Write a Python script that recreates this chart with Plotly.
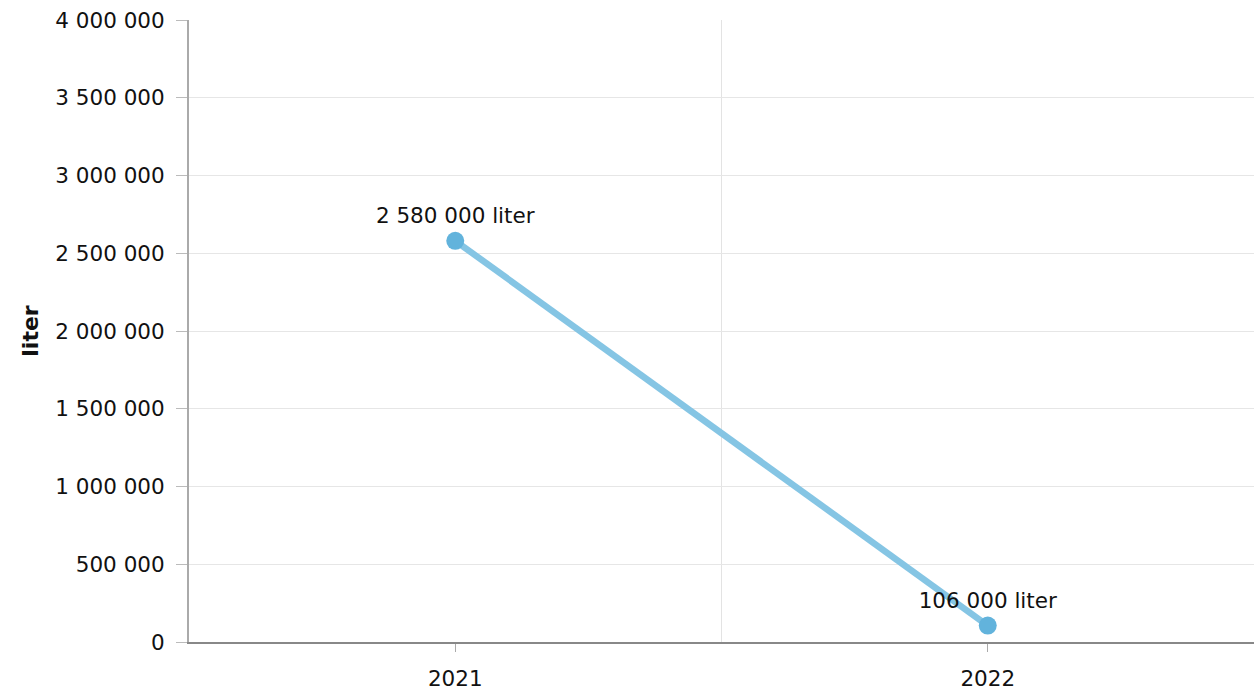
import plotly.graph_objects as go

years = ["2021", "2022"]
values = [2580000, 106000]
unit = "liter"
y_ticks = [0, 500000, 1000000, 1500000, 2000000, 2500000, 3000000, 3500000, 4000000]

def fmt(v):
    return f"{v:,}".replace(",", " ")

x_pos = list(range(len(years)))
labels = [f"{fmt(v)} {unit}" for v in values]

FONT = "Verdana, DejaVu Sans, sans-serif"
FS = 21.5

fig = go.Figure()
fig.add_trace(go.Scatter(
    x=x_pos, y=values,
    mode="lines+markers+text",
    line=dict(color="#85c5e4", width=6.5),
    marker=dict(color="#62b3dc", size=18),
    text=labels,
    textposition="top center",
    textfont=dict(family=FONT, size=FS, color="#111111"),
    cliponaxis=False,
    hoverinfo="skip",
))

fig.update_layout(
    width=1256, height=691,
    margin=dict(l=189, r=2, t=20, b=49, autoexpand=False),
    paper_bgcolor="white", plot_bgcolor="white",
    showlegend=False,
    font=dict(family=FONT, size=FS, color="#111111"),
    separators=". ",
)
fig.update_xaxes(
    automargin=False,
    range=[-0.5, 1.5],
    tickmode="array", tickvals=x_pos, ticktext=years,
    showgrid=False,
    ticks="outside", ticklen=8, tickcolor="#aaaaaa",
    ticklabelstandoff=8,
    showline=True, linecolor="#888888", linewidth=2,
    minor=dict(tickmode="array", tickvals=[0.5, 1.5], showgrid=True,
               gridcolor="#e3e3e3", gridwidth=1, ticks=""),
    zeroline=False,
    tickfont=dict(family=FONT, size=FS),
)
fig.update_yaxes(
    automargin=False,
    range=[0, 4000000],
    tickmode="array", tickvals=y_ticks,
    ticktext=[fmt(v) for v in y_ticks],
    showgrid=True, gridcolor="#e6e6e6", gridwidth=1,
    ticks="outside", ticklen=11, tickcolor="#bbbbbb",
    ticklabelstandoff=7,
    showline=True, linecolor="#aaaaaa", linewidth=2,
    zeroline=False,
    title=dict(text="<b>liter</b>", font=dict(family=FONT, size=22), standoff=11),
    tickfont=dict(family=FONT, size=FS),
)

fig.write_html(
    "out.html",
    config={"displayModeBar": False},
    post_script="document.body.style.margin='0';document.body.style.overflow='hidden';",
)
